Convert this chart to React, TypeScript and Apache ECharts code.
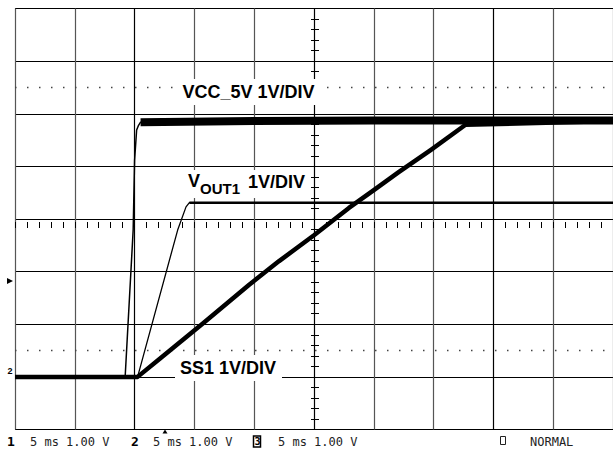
import React, { useEffect, useRef } from "react";
import * as echarts from "echarts";

// time in ms (5 ms/div, 10 div), volts (1 V/div, ground of all channels at 0)
const vccTime = [0, 9.21, 9.88, 10.0, 10.17, 10.33, 10.5, 20, 30, 40, 50];
const vccVolts = [0, 0, 2.79, 4.12, 4.69, 4.78, 4.84, 4.86, 4.87, 4.87, 4.87];
const voutTime = [0, 10.25, 13.6, 14.3, 14.58, 50];
const voutVolts = [0, 0, 2.79, 3.23, 3.31, 3.31];
const ss1Time = [0, 10.25, 12.08, 15.83, 19.58, 22.08, 25.0, 27.92, 30.0, 32.08, 34.75, 37.67, 50];
const ss1Volts = [0, 0, 0.34, 1.04, 1.75, 2.2, 2.69, 3.21, 3.55, 3.89, 4.31, 4.79, 4.86];
const dottedLevels = [0.5, 5.5];
const channelNames = ["1", "2", "3"];
const readouts = ["5 ms 1.00 V", "5 ms 1.00 V", "5 ms 1.00 V"];
const modeText = "NORMAL";
const traceLabels = ["VCC_5V 1V/DIV", "V", "OUT1", "1V/DIV", "SS1 1V/DIV"];

const zip = (t: number[], v: number[]) => t.map((x, i) => [x, v[i]]);

export default function App() {
  const ref = useRef<HTMLDivElement>(null);
  useEffect(() => {
    if (!ref.current) return;
    const chart = echarts.init(ref.current, undefined, { renderer: "svg" });
    const G = "#555";
    const K = "#000";
    const sans = "Liberation Sans, Arial, sans-serif";
    const mono = "DejaVu Sans Mono, monospace";
    const labelFont = (size: number) => ({ fontSize: size, fontWeight: "bold", fontFamily: sans, fill: "#000" });
    const txt = (text: string, x: number, y: number, style: any) => ({
      type: "text",
      x,
      y,
      z: 100,
      style: { text, textAlign: "left", textVerticalAlign: "middle", align: "left", verticalAlign: "middle", ...style },
    });
    const box = (x: number, y: number, w: number, h: number) => ({
      type: "rect",
      z: 99,
      shape: { x, y, width: w, height: h },
      style: { fill: "#fff" },
    });
    const vcc = zip(vccTime, vccVolts);
    const vout = zip(voutTime, voutVolts);
    const ss1 = zip(ss1Time, ss1Volts);

    const line = (data: number[][], width: number, z = 3) => ({
      type: "line",
      data,
      symbol: "none",
      z,
      lineStyle: { color: "#000", width, cap: "butt", join: "round" },
      silent: true,
    });

    chart.setOption({
      animation: false,
      backgroundColor: "#fff",
      grid: { left: 15, top: 8.5, width: 600, height: 421 },
      xAxis: [
        {
          type: "value",
          min: 0,
          max: 50,
          interval: 5,
          axisLine: { show: false },
          axisTick: { show: false },
          axisLabel: { show: false },
          splitLine: { show: true, lineStyle: { color: [G, G, K, G, G, K, G, G, K, G, G], width: 1.2 } },
        },
        {
          type: "value",
          min: 0,
          max: 50,
          interval: 1,
          position: "bottom",
          offset: -213.5,
          axisLine: { show: false },
          axisTick: { show: true, length: 6, lineStyle: { color: "#000", width: 1 } },
          axisLabel: { show: false },
          splitLine: { show: false },
        },
      ],
      yAxis: [
        {
          type: "value",
          min: -1,
          max: 7,
          interval: 1,
          axisLine: { show: false },
          axisTick: { show: false },
          axisLabel: { show: false },
          splitLine: { show: true, lineStyle: { color: "#000", width: 1 } },
        },
        {
          type: "value",
          min: -1,
          max: 7,
          interval: 0.2,
          position: "left",
          offset: -304,
          axisLine: { show: false },
          axisTick: { show: true, length: 8, lineStyle: { color: "#000", width: 1 } },
          axisLabel: { show: false },
          splitLine: { show: false },
        },
      ],
      series: [
        ...dottedLevels.map((lv) => ({
          type: "line",
          data: [
            [0, lv],
            [50, lv],
          ],
          symbol: "none",
          z: 1,
          silent: true,
          lineStyle: { color: "#444", width: 1.5, type: [1.5, 10.5] },
        })),
        line(vcc, 1.5),
        line(vcc.slice(6), 8),
        line(vout, 1.3),
        line(vout.slice(4), 2.6),
        line(ss1, 4.5, 4),
      ],
      graphic: [
        box(177, 79, 144, 26),
        txt(traceLabels[0], 182.5, 91.7, labelFont(18)),
        box(184, 170, 126, 28),
        txt(traceLabels[1], 188, 181.3, labelFont(18)),
        txt(traceLabels[2], 200, 188.5, labelFont(15)),
        txt(traceLabels[3], 248, 182, labelFont(18)),
        box(175, 355, 107, 26),
        txt(traceLabels[4], 180, 367.5, labelFont(18)),
        {
          type: "polygon",
          z: 100,
          shape: { points: [[7, 278], [13, 281], [7, 284]] },
          style: { fill: "#000" },
        },
        txt(channelNames[1], 7.5, 371, { fontSize: 9, fontWeight: "bold", fontFamily: sans, fill: "#000" }),
        {
          type: "polygon",
          z: 100,
          shape: { points: [[162.5, 433.5], [167.5, 433.5], [165, 429.5]] },
          style: { fill: "#000" },
        },
        txt(channelNames[0], 7, 441.5, { fontSize: 13, fontWeight: "bold", fontFamily: mono, fill: "#000" }),
        txt(readouts[0], 30, 441.5, { fontSize: 12, fontFamily: mono, fill: "#222" }),
        txt(channelNames[1], 131, 441.5, { fontSize: 13, fontWeight: "bold", fontFamily: mono, fill: "#000" }),
        txt(readouts[1], 153, 441.5, { fontSize: 12, fontFamily: mono, fill: "#222" }),
        {
          type: "rect",
          z: 100,
          shape: { x: 253.5, y: 436, width: 7, height: 11 },
          style: { fill: "#fff", stroke: "#000", lineWidth: 1.5 },
        },
        txt(channelNames[2], 254.5, 441.5, { fontSize: 10, fontWeight: "bold", fontFamily: mono, fill: "#000" }),
        txt(readouts[2], 278, 441.5, { fontSize: 12, fontFamily: mono, fill: "#222" }),
        {
          type: "rect",
          z: 100,
          shape: { x: 500.5, y: 436.5, width: 5, height: 8 },
          style: { fill: "none", stroke: "#222", lineWidth: 1 },
        },
        txt(modeText, 530, 441.5, { fontSize: 12, fontFamily: mono, fill: "#222" }),
      ],
    });
    return () => chart.dispose();
  }, []);
  return (
    <div
      ref={ref}
      style={{ position: "absolute", left: 0, top: 0, width: 613, height: 449, background: "#fff" }}
    />
  );
}
